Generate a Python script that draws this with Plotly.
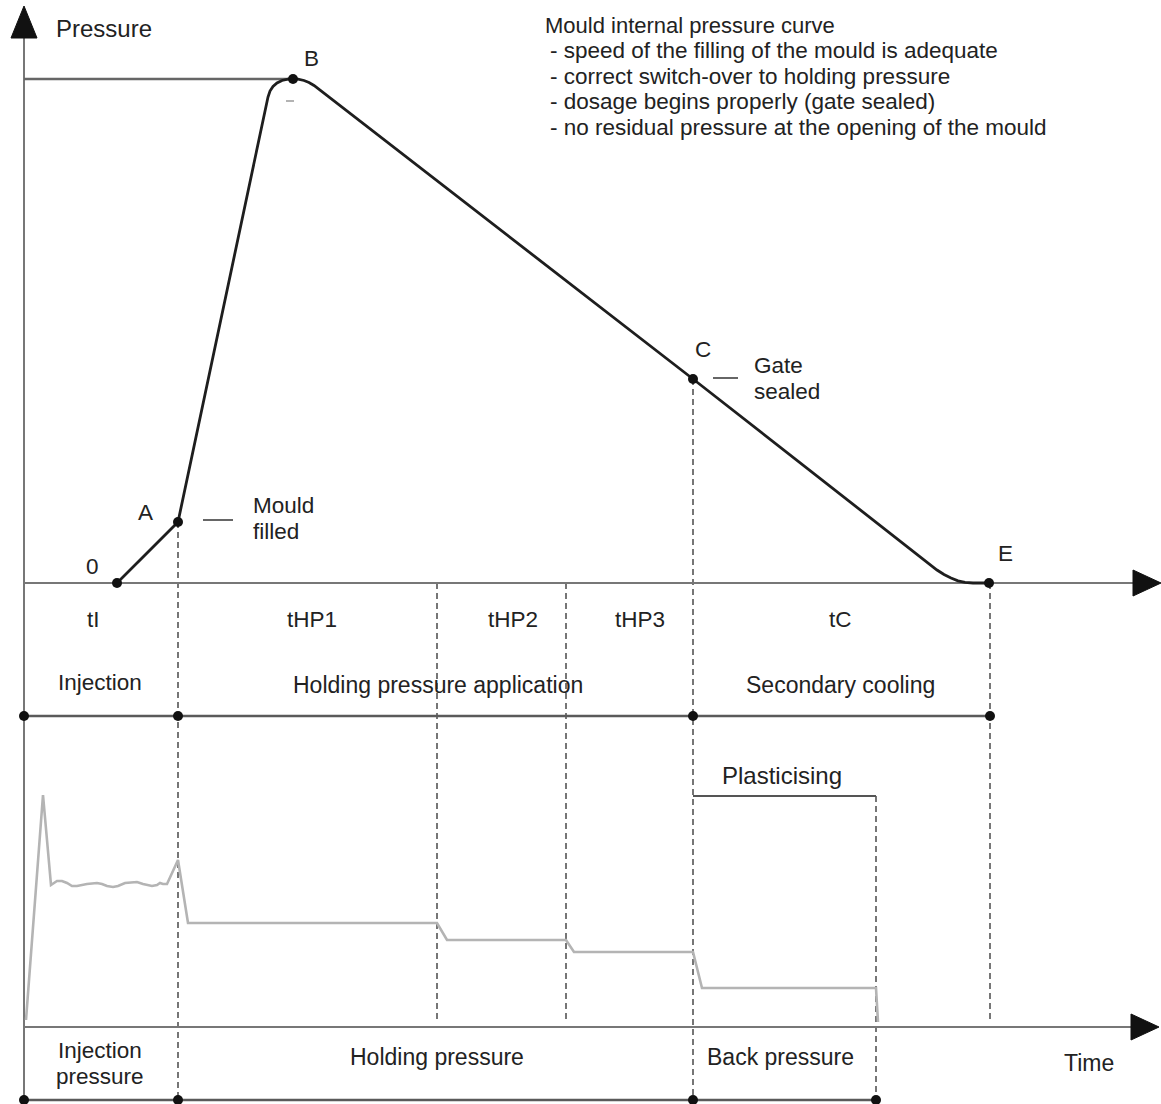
import plotly.graph_objects as go

# ---- Drawing-unit coordinates (x = time direction, y = downward) ----
W, H = 1161, 1104

# Mould internal pressure curve
cavity_t = [117, 178, 268, 270, 273, 277, 282, 288, 293, 298, 304, 309, 314,
            693, 937, 944, 951, 958, 965, 973, 989]
cavity_p = [583, 522, 97, 91, 86.5, 83, 80.5, 79.2, 79, 79.2, 80.5, 82.5, 85.5,
            379, 570, 574.5, 578, 580.8, 582.3, 583, 583]

# Characteristic points 0, A, B, C, E
key_names = ["0", "A", "B", "C", "E"]
key_t = [117, 178, 293, 693, 989]
key_p = [583, 522, 79, 379, 583]
key_label_t = [92, 145, 311, 703, 1005]
key_label_p = [566, 512, 58, 349, 553]

# Machine pressure curve (injection, holding, back pressure)
machine_t = [26, 43, 51, 57, 62, 67, 72, 77, 87, 97, 102, 107, 113, 118, 125, 132,
             137, 143, 152, 157, 160, 163, 167, 178, 188, 437, 447, 566, 574, 693,
             702, 876, 878]
machine_p = [1020, 795, 885, 881, 881, 883, 886, 886, 884, 883, 884, 886, 887, 886,
             883, 882, 882, 884, 886, 885, 883, 884, 884, 860, 923, 923, 940, 940,
             952, 952, 988, 988, 1022]

# Phase boundaries
phase_t = [24, 178, 693, 990]           # injection / holding / cooling bar
pressure_phase_t = [24, 178, 693, 876]  # injection / holding / back pressure bar
phase_bar_y = 716
pressure_bar_y = 1100

# Dashed time markers: x, top, bottom
dash_t = [178, 437, 566, 693, 876, 990]
dash_top = [522, 583, 583, 379, 796, 583]
dash_bottom = [1104, 1022, 1022, 1104, 1104, 1022]

# Axes
axis_x = 24
upper_axis_y = 583
lower_axis_y = 1027

# Labels: text, x, y, anchor, size
labels = [
    ("Pressure", 54, 28, "left", 24),
    ("Mould internal pressure curve", 543, 25, "left", 22),
    ("- speed of the filling of the mould is adequate", 548, 50, "left", 22.5),
    ("- correct switch-over to holding pressure", 548, 76, "left", 22.5),
    ("- dosage begins properly (gate sealed)", 548, 101, "left", 22.5),
    ("- no residual pressure at the opening of the mould", 548, 127, "left", 22.5),
    ("Mould", 251, 505, "left", 22.5),
    ("filled", 251, 531, "left", 22.5),
    ("Gate", 752, 365, "left", 22.5),
    ("sealed", 752, 391, "left", 22.5),
    ("tI", 93, 619, "center", 22.5),
    ("tHP1", 312, 619, "center", 22.5),
    ("tHP2", 513, 619, "center", 22.5),
    ("tHP3", 640, 619, "center", 22.5),
    ("tC", 840, 619, "center", 22.5),
    ("Injection", 100, 682, "center", 22.5),
    ("Holding pressure application", 438, 685, "center", 23),
    ("Secondary cooling", 840, 685, "center", 23),
    ("Plasticising", 782, 775, "center", 24),
    ("Injection", 100, 1050, "center", 22.5),
    ("pressure", 100, 1076, "center", 22.5),
    ("Holding pressure", 437, 1057, "center", 23),
    ("Back pressure", 780, 1057, "center", 23),
    ("Time", 1089, 1063, "center", 23),
]

FONT = "Liberation Sans, Arial, Helvetica, sans-serif"
INK = "#222222"

fig = go.Figure()

# machine pressure (light grey)
fig.add_trace(go.Scatter(x=machine_t, y=machine_p, mode="lines",
                         line=dict(color="#b4b4b4", width=2.6),
                         hoverinfo="skip", showlegend=False))

# mould internal pressure (black)
fig.add_trace(go.Scatter(x=cavity_t, y=cavity_p, mode="lines",
                         line=dict(color="#1e1e1e", width=2.8),
                         hoverinfo="skip", showlegend=False))

shapes = []


def seg(x0, y0, x1, y1, color, width, dash="solid"):
    shapes.append(dict(type="line", xref="x", yref="y", x0=x0, y0=y0, x1=x1, y1=y1,
                       line=dict(color=color, width=width, dash=dash), layer="below"))


def arrow_head(tx, ty, direction, length=28, half=13):
    if direction == "up":
        pts = [(tx, ty), (tx - half, ty + length), (tx + half, ty + length)]
    else:
        pts = [(tx, ty), (tx - length, ty - half), (tx - length, ty + half)]
    path = "M " + " L ".join(f"{px},{py}" for px, py in pts) + " Z"
    shapes.append(dict(type="path", xref="x", yref="y", path=path,
                       fillcolor="#111111", line=dict(color="#111111", width=1)))


# dashed time markers
for xt, y0, y1 in zip(dash_t, dash_top, dash_bottom):
    seg(xt, y0, xt, y1, "#4a4a4a", 1.5, "6px,4px")

# pressure axis and two time axes
seg(axis_x, 30, axis_x, H, "#777777", 2)
seg(axis_x, upper_axis_y, W - 26, upper_axis_y, "#777777", 2)
seg(axis_x, lower_axis_y, W - 28, lower_axis_y, "#777777", 2)
arrow_head(axis_x, 6, "up", length=32)
arrow_head(W, upper_axis_y, "right")
arrow_head(W - 2, lower_axis_y, "right")

# peak pressure reference line
seg(axis_x, key_p[2], key_t[2], key_p[2], "#666666", 2.4)
# small tick under the peak
seg(286, 101, 294, 101, "#9a9a9a", 1.5)

# phase bars
seg(phase_t[0], phase_bar_y, phase_t[-1], phase_bar_y, "#5a5a5a", 2.4)
seg(pressure_phase_t[0], pressure_bar_y, pressure_phase_t[-1], pressure_bar_y, "#5a5a5a", 2.4)

# plasticising bracket
seg(dash_t[3], 796, dash_t[4], 796, "#555555", 2)

# leader dashes for "Mould filled" and "Gate sealed"
seg(203, 520, 233, 520, "#333333", 1.5)
seg(713, 378, 738, 378, "#333333", 1.5)

# markers
fig.add_trace(go.Scatter(x=key_t, y=key_p, mode="markers",
                         marker=dict(color="#111111", size=10),
                         hoverinfo="skip", showlegend=False, cliponaxis=False))
fig.add_trace(go.Scatter(x=phase_t, y=[phase_bar_y] * len(phase_t), mode="markers",
                         marker=dict(color="#111111", size=10),
                         hoverinfo="skip", showlegend=False, cliponaxis=False))
fig.add_trace(go.Scatter(x=pressure_phase_t, y=[pressure_bar_y] * len(pressure_phase_t),
                         mode="markers", marker=dict(color="#111111", size=10),
                         hoverinfo="skip", showlegend=False, cliponaxis=False))

annotations = []
for name, lx, ly in zip(key_names, key_label_t, key_label_p):
    annotations.append(dict(x=lx, y=ly, text=name, showarrow=False, xref="x", yref="y",
                            font=dict(family=FONT, size=22.5, color=INK),
                            xanchor="center", yanchor="middle"))
for text, lx, ly, anchor, size in labels:
    annotations.append(dict(x=lx, y=ly, text=text, showarrow=False, xref="x", yref="y",
                            font=dict(family=FONT, size=size, color=INK),
                            xanchor=anchor, yanchor="middle"))

fig.update_layout(
    width=W, height=H, autosize=False,
    margin=dict(l=0, r=0, t=0, b=0, pad=0),
    paper_bgcolor="white", plot_bgcolor="white",
    xaxis=dict(range=[0, W], visible=False, fixedrange=True),
    yaxis=dict(range=[H, 0], visible=False, fixedrange=True),
    shapes=shapes, annotations=annotations,
)

fig.write_html("out.html")
